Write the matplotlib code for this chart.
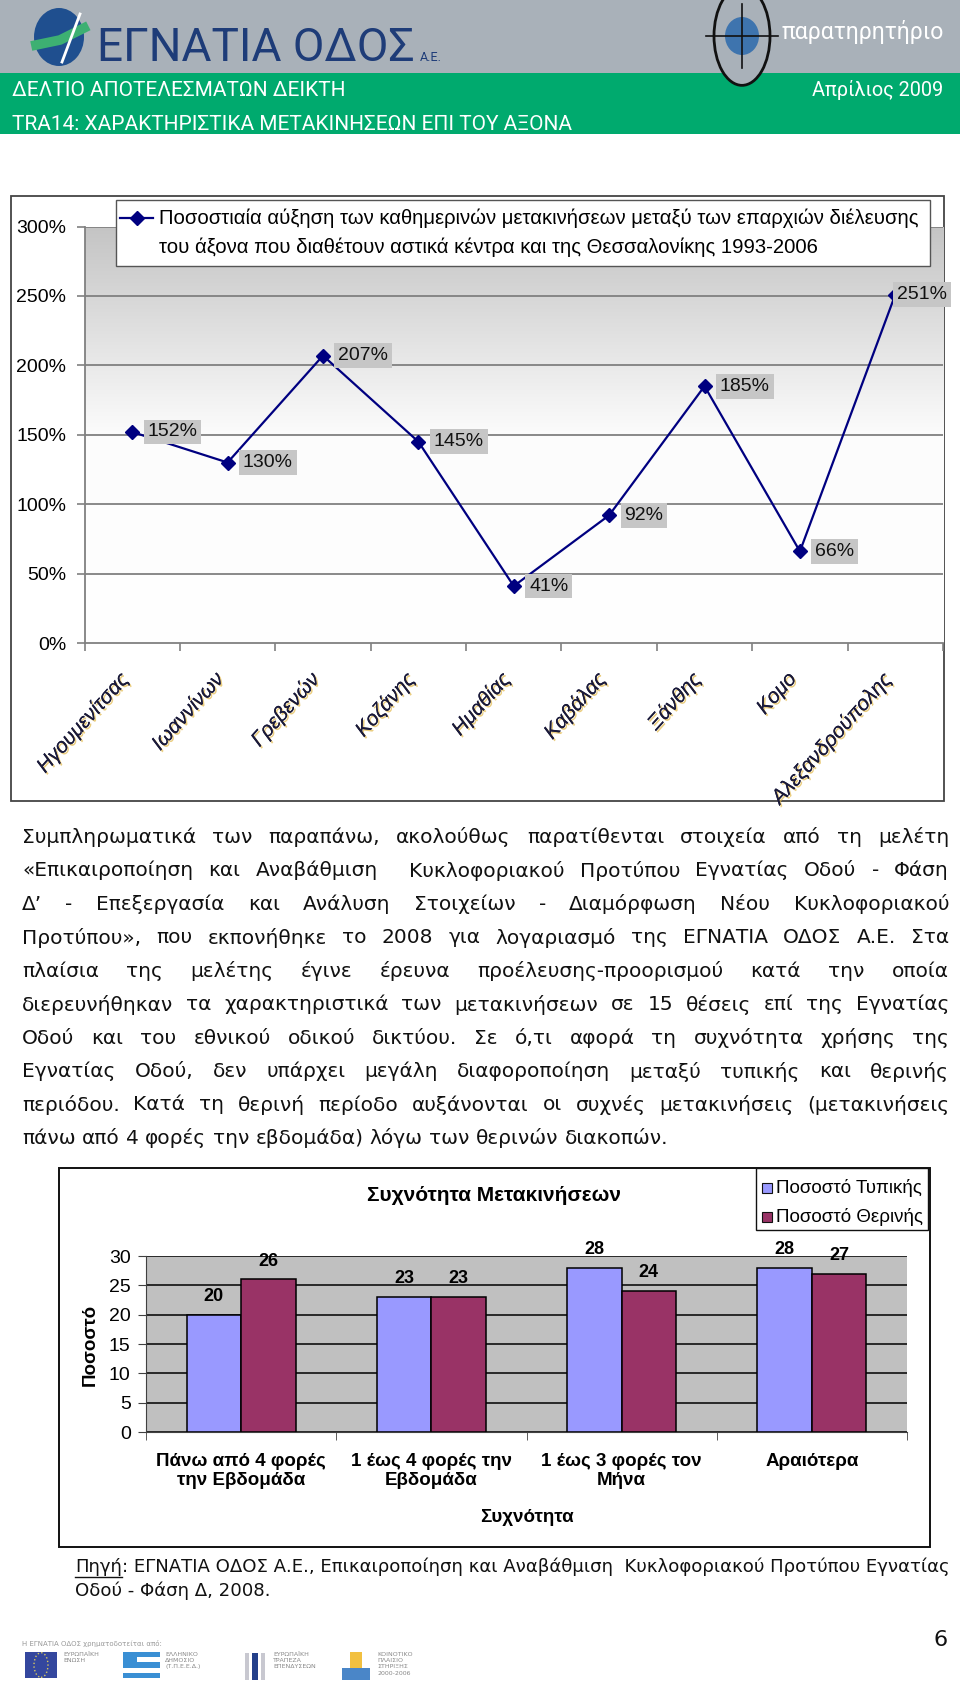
import matplotlib
matplotlib.use('Agg')
import matplotlib.pyplot as plt
import matplotlib.patheffects as pe
from matplotlib.patches import Rectangle, Circle, Ellipse
from matplotlib.lines import Line2D
from matplotlib.colors import LinearSegmentedColormap
import numpy as np

W, H = 960, 1692

# --- data: growth of daily trips per prefecture (line chart)
provinces = ['Ηγουμενίτσας', 'Ιωαννίνων', 'Γρεβενών', 'Κοζάνης', 'Ημαθίας',
             'Καβάλας', 'Ξάνθης', 'Κομο', 'Αλεξανδρούπολης']
growth = [152, 130, 207, 145, 41, 92, 185, 66, 251]
growth_ticks = [0, 50, 100, 150, 200, 250, 300]
line_legend = ['Ποσοστιαία αύξηση των καθημερινών μετακινήσεων μεταξύ των επαρχιών διέλευσης',
               'του άξονα που διαθέτουν αστικά κένtρα και της Θεσσαλονίκης 1993-2006'.replace('t', 'τ')]

# --- data: trip frequency (bar chart)
freq_labels = ['Πάνω από 4 φορές\nτην Εβδομάδα', '1 έως 4 φορές την\nΕβδομάδα',
               '1 έως 3 φορές τον\nΜήνα', 'Αραιότερα']
typical = [20, 23, 28, 28]
summer = [26, 23, 24, 27]
bar_ticks = [0, 5, 10, 15, 20, 25, 30]
bar_series = ['Ποσοστό Τυπικής', 'Ποσοστό Θερινής']

paragraph = [
    'Συμπληρωματικά των παραπάνω, ακολούθως παρατίθενται στοιχεία από τη μελέτη',
    '«Επικαιροποίηση και Αναβάθμιση  Κυκλοφοριακού Προτύπου Εγνατίας Οδού - Φάση',
    'Δ’ - Επεξεργασία και Ανάλυση Στοιχείων - Διαμόρφωση Νέου Κυκλοφοριακού',
    'Προτύπου», που εκπονήθηκε το 2008 για λογαριασμό της ΕΓΝΑΤΙΑ ΟΔΟΣ Α.Ε. Στα',
    'πλαίσια της μελέτης έγινε έρευνα προέλευσης-προορισμού κατά την οποία',
    'διερευνήθηκαν τα χαρακτηριστικά των μετακινήσεων σε 15 θέσεις επί της Εγνατίας',
    'Οδού και του εθνικού οδικού δικτύου. Σε ό,τι αφορά τη συχνότητα χρήσης της',
    'Εγνατίας Οδού, δεν υπάρχει μεγάλη διαφοροποίηση μεταξύ τυπικής και θερινής',
    'περιόδου. Κατά τη θερινή περίοδο αυξάνονται οι συχνές μετακινήσεις (μετακινήσεις',
    'πάνω από 4 φορές την εβδομάδα) λόγω των θερινών διακοπών.',
]
source_1 = ': ΕΓΝΑΤΙΑ ΟΔΟΣ Α.Ε., Επικαιροποίηση και Αναβάθμιση  Κυκλοφοριακού Προτύπου Εγνατίας'
source_2 = 'Οδού - Φάση Δ, 2008.'

ARIAL = ['Liberation Sans', 'DejaVu Sans']
ROBOTO = ['Roboto', 'DejaVu Sans']


def box(x0, y0, x1, y1):
    return [x0 / W, 1 - y1 / H, (x1 - x0) / W, (y1 - y0) / H]


def fy(y):
    return 1 - y / H


def rect(x0, y0, x1, y1, **kw):
    r = Rectangle((x0 / W, fy(y1)), (x1 - x0) / W, (y1 - y0) / H,
                  transform=fig.transFigure, **kw)
    fig.add_artist(r)
    return r


fig = plt.figure(figsize=(9.6, 16.92), dpi=100)
renderer = fig.canvas.get_renderer()


def text_w(s, size, **kw):
    t = fig.text(0, 0, s, fontsize=size, **kw)
    w = t.get_window_extent(renderer).width
    t.remove()
    return w


def fit_size(s, width, **kw):
    return 20 * width / text_w(s, 20, **kw)


def fit_text(x, y, s, width, **kw):
    size = fit_size(s, width, **{k: v for k, v in kw.items() if k in ('family', 'fontweight', 'style')})
    return fig.text(x / W, fy(y), s, fontsize=size, **kw)


# ---------------- header
rect(0, 0, 960, 73, facecolor='#A9B1B9', edgecolor='none')
rect(0, 73, 960, 134, facecolor='#00AA6E', edgecolor='none')
fig.add_artist(Ellipse((59 / W, fy(37)), 50 / W, 58 / H, transform=fig.transFigure,
                       facecolor='#1F4F8F', edgecolor='none'))
fig.add_artist(Line2D([36 / W, 60 / W, 84 / W], [fy(45), fy(40), fy(28)],
                      transform=fig.transFigure, color='#3DB072', lw=7))
fig.add_artist(Line2D([62 / W, 80 / W], [fy(62), fy(14)],
                      transform=fig.transFigure, color='white', lw=2))
fit_text(97, 61, 'ΕΓΝΑΤΙΑ ΟΔΟΣ', 318, family=ROBOTO, color='#1E3C78', va='baseline')
fit_text(420, 61, 'Α.Ε.', 22, family=ROBOTO, color='#1E3C78', va='baseline')
fig.add_artist(Circle((742 / W, fy(36)), 28 / W, transform=fig.transFigure,
                      facecolor='#A9B1B9', edgecolor='#111111', lw=2))
fig.add_artist(Ellipse((742 / W, fy(36)), 34 / W, 38 / H, transform=fig.transFigure,
                       facecolor='#3E74AE', edgecolor='none'))
fig.add_artist(Line2D([706 / W, 778 / W], [fy(36), fy(36)], transform=fig.transFigure,
                      color='#111111', lw=1.2))
fig.add_artist(Line2D([742 / W, 742 / W], [fy(4), fy(68)], transform=fig.transFigure,
                      color='#111111', lw=1.2))
fit_text(782, 32, 'παρατηρητήριο', 162, family=ROBOTO, color='white', va='center')
fit_text(12, 90, 'ΔΕΛΤΙΟ ΑΠΟΤΕΛΕΣΜΑΤΩΝ ΔΕΙΚΤΗ', 333, family=ROBOTO,
         color='white', va='center')
fit_text(12, 124, 'TRA14: ΧΑΡΑΚΤΗΡΙΣΤΙΚΑ ΜΕΤΑΚΙΝΗΣΕΩΝ ΕΠΙ ΤΟΥ ΑΞΟΝΑ', 562, family=ROBOTO,
         color='white', va='center')
fit_text(943, 90, 'Απρίλιος 2009', 132, family=ROBOTO, color='white',
         va='center', ha='right')

# ---------------- line chart
rect(11, 196, 944, 801, facecolor='white', edgecolor='#444444', lw=1.3, zorder=0)
ax1 = fig.add_axes(box(84.5, 226.5, 943, 643))
xs = np.arange(len(growth)) + 0.5
grad = LinearSegmentedColormap.from_list('g', ['#FFFFFF', '#FCFCFC', '#C4C4C4'])
ax1.imshow(np.linspace(0, 1, 256).reshape(-1, 1), cmap=grad, origin='lower',
           extent=(0, len(growth), 0, 300), aspect='auto', zorder=0)
ax1.set_xlim(0, len(growth))
ax1.set_ylim(0, 300)
for v in growth_ticks[1:]:
    ax1.axhline(v, color='#808080', lw=1.3, zorder=1)
ax1.plot(xs, growth, color='#000080', lw=1.6, marker='D', ms=7, zorder=3, clip_on=False)
for x, v in zip(xs, growth):
    dx = 1 if v == max(growth) else 11
    ax1.annotate(f'{v}%', (x, v), xytext=(dx, 0), textcoords='offset points',
                 va='center', ha='left', fontsize=14, family=ARIAL, color='#111111', zorder=4,
                 bbox=dict(boxstyle='square,pad=0.2', fc='#C6C6C6', ec='none'))
ax1.set_yticks(growth_ticks, [f'{v}%' for v in growth_ticks], family=ARIAL, fontsize=14)
ax1.set_xticks(np.arange(len(growth) + 1), [])
ax1.tick_params(length=6, color='#808080', width=1.2, pad=7)
for s in ['top', 'right']:
    ax1.spines[s].set_visible(False)
for s in ['left', 'bottom']:
    ax1.spines[s].set_color('#808080')
    ax1.spines[s].set_linewidth(1.3)
for x, name in zip(xs, provinces):
    ax1.annotate(name, (x, 0), xytext=(-10, -19), textcoords='offset points',
                 rotation=48, rotation_mode='anchor', ha='right', va='top',
                 fontsize=15, style='italic', family=ARIAL, color='#1A1A3A',
                 annotation_clip=False,
                 path_effects=[pe.withSimplePatchShadow(offset=(1.2, -1.2),
                                                        shadow_rgbFace='#E2B84A', alpha=0.7),
                               pe.Normal()])

# legend of line chart
rect(116, 200, 930, 266, facecolor='white', edgecolor='#555555', lw=1, zorder=5)
fig.add_artist(Line2D([120 / W, 153 / W], [fy(218), fy(218)], transform=fig.transFigure,
                      color='#000080', lw=1.6, zorder=6))
fig.add_artist(Line2D([136.5 / W], [fy(218)], transform=fig.transFigure, marker='D',
                      ms=7, color='#000080', zorder=6))
leg_size = fit_size(line_legend[0], 759, family=ARIAL)
fig.text(159 / W, fy(218), line_legend[0], family=ARIAL, fontsize=leg_size, va='center', zorder=6)
fig.text(159 / W, fy(247), line_legend[1], family=ARIAL, fontsize=leg_size, va='center', zorder=6)

# ---------------- justified paragraph
PFONT = 14.5
space_w = text_w('x x', PFONT) - text_w('xx', PFONT)
left, right = 22, 949
for i, line in enumerate(paragraph):
    y = 837 + i * 33.5
    words = line.split(' ')
    widths = [text_w(w, PFONT) if w else 0 for w in words]
    if i < len(paragraph) - 1:
        gap = (right - left - sum(widths)) / (len(words) - 1)
    else:
        gap = space_w
    x = left
    for w, wd in zip(words, widths):
        if w:
            fig.text(x / W, fy(y), w, fontsize=PFONT, color='#111111', va='center')
        x += wd + gap

# ---------------- bar chart
rect(59, 1168, 930, 1547, facecolor='white', edgecolor='#111111', lw=1.4, zorder=0)
ax2 = fig.add_axes(box(146, 1256, 907, 1432))
ax2.set_facecolor('#C0C0C0')
bx = np.arange(len(typical))
bw = 0.286
ax2.bar(bx - bw / 2, typical, bw, color='#9999FF', edgecolor='black', lw=1.1, zorder=3)
ax2.bar(bx + bw / 2, summer, bw, color='#993366', edgecolor='black', lw=1.1, zorder=3)
for x, a, b in zip(bx, typical, summer):
    ax2.annotate(str(a), (x - bw / 2, a), xytext=(0, 7), textcoords='offset points',
                 ha='center', va='bottom', fontsize=13, fontweight='bold', family=ARIAL,
                 annotation_clip=False)
    ax2.annotate(str(b), (x + bw / 2, b), xytext=(0, 7), textcoords='offset points',
                 ha='center', va='bottom', fontsize=13, fontweight='bold', family=ARIAL,
                 annotation_clip=False)
ax2.set_xlim(-0.5, len(typical) - 0.5)
ax2.set_ylim(0, 30)
ax2.set_yticks(bar_ticks, [str(v) for v in bar_ticks], family=ARIAL, fontsize=14)
ax2.yaxis.grid(True, color='black', lw=1.1)
ax2.set_axisbelow(True)
ax2.set_xticks(bx, freq_labels, family=ARIAL, fontsize=13.5, fontweight='bold')
ax2.set_xticks(np.arange(-0.5, len(typical)), minor=True)
ax2.tick_params(axis='x', which='major', length=0, pad=15)
ax2.tick_params(axis='x', which='minor', length=6, color='#404040')
ax2.tick_params(axis='y', length=6, color='#404040', pad=5)
for s in ['top', 'right']:
    ax2.spines[s].set_visible(False)
for s in ['left', 'bottom']:
    ax2.spines[s].set_color('#404040')
ax2.set_xlabel('Συχνότητα', family=ARIAL, fontsize=13.5, fontweight='bold', labelpad=14)
fig.text(90 / W, fy(1345), 'Ποσοστό', family=ARIAL, fontsize=13.5, fontweight='bold',
         rotation=90, ha='center', va='center')
fig.text(494 / W, fy(1195), 'Συχνότητα Μετακινήσεων', family=ARIAL, fontsize=15,
         fontweight='bold', ha='center', va='center')
rect(756, 1168, 928, 1230, facecolor='white', edgecolor='#111111', lw=1)
for yy, col, lab in zip([1188, 1217], ['#9999FF', '#993366'], bar_series):
    rect(762, yy - 5, 772, yy + 5, facecolor=col, edgecolor='#111111', lw=0.8)
    fig.text(776 / W, fy(yy), lab, family=ARIAL, fontsize=13.5, va='center')

# ---------------- source & footer
FFONT = fit_size('Πηγή' + source_1, 874)
fig.text(75 / W, fy(1567), 'Πηγή', fontsize=FFONT, color='#111111', va='center')
pw = text_w('Πηγή', FFONT)
fig.add_artist(Line2D([75 / W, (75 + pw) / W], [fy(1577), fy(1577)],
                      transform=fig.transFigure, color='#111111', lw=1))
fig.text((75 + pw) / W, fy(1567), source_1, fontsize=FFONT, color='#111111', va='center')
fig.text(75 / W, fy(1591), source_2, fontsize=FFONT, color='#111111', va='center')
fig.text(941 / W, fy(1640), '6', fontsize=16, color='#111111', ha='center', va='center')

fig.text(22 / W, fy(1643), 'Η ΕΓΝΑΤΙΑ ΟΔΟΣ χρηματοδοτείται από:', fontsize=5,
         color='#999999', va='center')
rect(25, 1652, 57, 1678, facecolor='#34479E', edgecolor='none')
fig.add_artist(Circle((41 / W, fy(1665)), 7 / W, transform=fig.transFigure,
                      facecolor='none', edgecolor='#D8C860', lw=1, ls=':'))
for k in range(5):
    c = '#3A8FD4' if k % 2 == 0 else 'white'
    rect(123, 1652 + k * 5.2, 160, 1652 + (k + 1) * 5.2, facecolor=c, edgecolor='none')
rect(123, 1652, 137, 1662.4, facecolor='#3A8FD4', edgecolor='none')
rect(245, 1653, 249, 1680, facecolor='#C8C8D0', edgecolor='none')
rect(252, 1653, 258, 1680, facecolor='#24408A', edgecolor='none')
rect(261, 1653, 265, 1680, facecolor='#C8C8D0', edgecolor='none')
rect(350, 1652, 362, 1668, facecolor='#F2C040', edgecolor='none')
rect(342, 1668, 370, 1680, facecolor='#4A86C8', edgecolor='none')
for x0, lines in [(63, 'ΕΥΡΩΠΑΪΚΗ\nΕΝΩΣΗ'), (165, 'ΕΛΛΗΝΙΚΟ\nΔΗΜΟΣΙΟ\n(Τ.Π.Ε.Ε.Δ.)'),
                  (273, 'ΕΥΡΩΠΑΪΚΗ\nΤΡΑΠΕΖΑ\nΕΠΕΝΔΥΣΕΩΝ'), (377, 'ΚΟΙΝΟΤΙΚΟ\nΠΛΑΙΣΙΟ\nΣΤΗΡΙΞΗΣ\n2000-2006')]:
    fig.text(x0 / W, fy(1652), lines, fontsize=4.5, color='#888888', va='top',
             linespacing=1.3)

fig.savefig('out.png', dpi=100)
